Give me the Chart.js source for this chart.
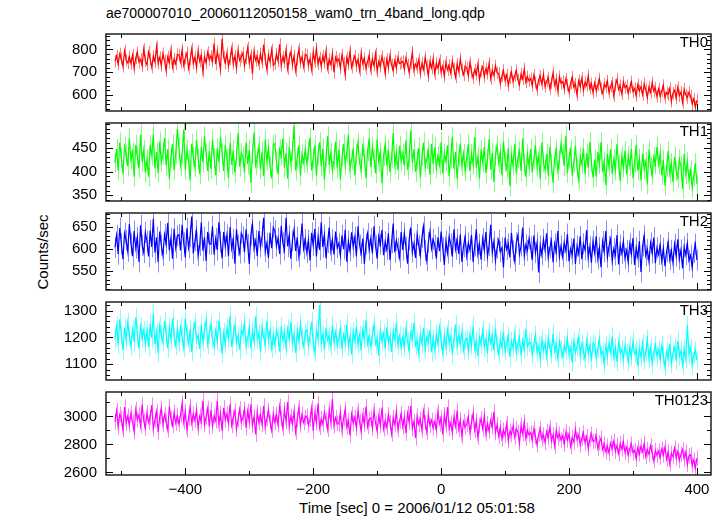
<!DOCTYPE html>
<html>
<head>
<meta charset="utf-8">
<script src="https://cdn.jsdelivr.net/npm/chart.js@4.4.1/dist/chart.umd.min.js"></script>
<style>
  body { margin: 0; background: #fff; }
  #wrap { position: relative; width: 724px; height: 516px; background: #fff; font-family: "Liberation Sans", Arial, sans-serif; color: #000; }
  .panel { position: absolute; left: 0; width: 724px; }
  #title { position: absolute; left: 106px; top: 5px; font-size: 14px; line-height: 16px; white-space: nowrap; }
  #ylab { position: absolute; left: 42px; top: 252px; font-size: 15px; white-space: nowrap; transform: translate(-50%, -50%) rotate(-90deg); }
  #xlab { position: absolute; left: 417px; top: 499px; font-size: 15px; line-height: 17px; white-space: nowrap; transform: translateX(-50%); }
</style>
</head>
<body>
<div id="wrap">
  <div id="title">ae700007010_20060112050158_wam0_trn_4band_long.qdp</div>
  <div id="ylab">Counts/sec</div>
  <div id="xlab">Time [sec] 0 = 2006/01/12 05:01:58</div>
</div>
<script>
// light curve bins: start time and bin width (sec)
var binStart = -510;
var binSize = 2.5;

var panelNames = ["TH0", "TH1", "TH2", "TH3", "TH0123"];
var panelColors = ["#ff0000", "#00ff00", "#0000ff", "#00ffff", "#ff00ff"];
var errColors = ["rgba(255,0,0,0.5)", "rgba(0,255,0,0.5)", "rgba(0,0,255,0.45)", "rgba(0,255,255,0.5)", "rgba(255,0,255,0.5)"];

// typical 1-sigma error of one bin, per band (counts/sec)
var rateErrors = [27, 21, 24, 35, 55];

var th0Rate = [
  748,772,735,781,760,726,794,752,741,768,739,775,718,763,787,744,757,729,801,750,
  733,789,758,722,771,746,812,740,765,729,782,751,707,768,743,796,724,760,737,779,
  776,744,799,731,762,785,718,757,803,739,766,721,792,748,775,703,769,741,788,755,
  771,748,826,735,792,755,712,847,766,741,783,727,759,804,738,771,719,795,752,768,
  784,729,763,808,741,775,694,790,752,769,736,781,745,822,758,713,776,747,799,731,
  738,781,750,823,729,767,745,798,716,761,789,734,772,707,756,801,742,768,725,779,
  774,731,759,712,788,747,805,736,763,726,771,743,792,718,757,734,781,699,766,748,
  758,719,776,741,689,764,735,792,722,751,770,728,756,709,783,737,761,716,747,774,
  712,759,730,781,704,748,726,769,741,695,757,722,773,733,708,751,719,766,738,743,
  748,715,762,733,699,741,788,709,736,721,754,697,739,712,765,728,684,747,719,758,
  694,739,718,752,701,726,683,744,710,731,697,748,715,679,736,705,758,712,689,727,
  719,685,742,703,676,711,690,735,668,705,724,681,716,695,739,672,709,687,728,698,
  695,651,683,708,664,689,642,676,701,659,684,707,668,645,693,671,715,657,680,662,
  672,641,688,655,624,667,683,649,690,637,661,676,628,654,697,643,669,618,681,652,
  659,628,671,644,613,652,679,635,648,601,663,638,674,621,657,642,684,629,650,611,
  652,618,644,671,629,608,648,635,662,611,639,654,597,643,668,624,641,605,657,632,
  641,607,633,658,614,628,596,645,619,637,602,649,623,589,636,612,654,617,631,594,
  627,594,618,642,588,611,603,629,572,608,621,586,634,597,613,568,625,601,589,612,
  596,561,583,547,578
];

var th1Rate = [
  418,447,402,461,429,395,452,436,411,470,424,441,389,456,433,407,478,420,445,398,
  425,389,456,433,478,407,441,397,463,420,436,471,412,447,384,429,458,403,437,490,
  451,412,437,488,404,446,423,381,458,431,409,466,427,395,452,419,474,438,401,443,
  406,467,428,392,449,419,473,438,401,455,427,386,461,414,444,397,432,481,410,439,
  432,398,461,416,445,376,437,482,413,428,453,405,441,390,467,422,448,411,385,456,
  459,421,394,447,433,470,408,439,385,452,417,443,497,402,428,455,391,436,419,446,
  417,443,471,402,428,455,391,436,462,411,448,383,430,474,414,439,401,425,463,408,
  446,383,430,458,414,439,477,405,424,449,392,437,461,418,404,452,429,386,443,470,
  409,452,427,396,468,420,441,375,433,457,412,446,399,428,481,415,437,403,454,421,
  438,412,465,403,430,486,418,447,399,425,450,387,432,461,409,426,444,393,458,416,
  451,407,433,414,462,396,438,421,455,390,428,473,406,441,384,431,459,412,437,401,
  429,458,401,437,415,473,408,431,385,446,419,452,397,426,468,404,439,378,433,455,
  418,440,392,463,421,405,449,369,434,413,457,396,428,442,401,470,417,389,436,411,
  447,398,426,455,410,432,384,461,419,403,437,391,452,415,376,429,446,402,424,459,
  436,412,475,397,428,446,391,420,454,407,383,431,416,449,395,438,408,462,419,387,
  425,389,441,416,462,398,421,371,437,410,447,395,426,403,458,414,380,432,409,444,
  394,433,412,448,386,419,456,402,427,381,438,405,421,373,446,410,392,431,415,452,
  415,438,392,424,370,409,443,396,418,378,431,401,387,426,412,364,437,395,420,383,
  402,366,391,418,374
];

var th2Rate = [
  604,631,589,648,612,577,636,620,595,657,613,584,641,602,627,571,654,609,592,638,
  618,583,642,605,669,592,627,571,640,609,586,633,612,659,597,624,578,646,603,630,
  633,597,655,614,581,647,603,628,674,590,619,642,585,608,661,596,627,573,639,612,
  611,652,587,624,598,661,616,579,639,606,632,584,650,601,622,567,645,609,591,636,
  628,593,645,610,566,632,657,601,619,584,641,605,628,671,594,613,580,637,602,649,
  642,607,625,589,653,614,598,671,606,631,578,619,644,596,627,583,610,658,601,622,
  592,620,574,637,609,646,583,627,598,661,605,632,579,615,649,596,621,588,640,603,
  613,585,631,600,644,571,618,596,638,605,627,583,652,609,590,624,566,612,635,598,
  624,590,652,607,578,629,611,643,586,617,599,636,575,614,658,593,620,602,581,639,
  598,636,604,567,621,649,593,612,580,633,608,586,627,651,597,574,615,640,601,622,
  609,578,627,595,640,603,564,618,591,629,612,583,645,600,622,589,633,571,606,628,
  585,614,598,632,571,607,645,589,611,576,624,597,639,583,608,655,592,617,574,603,
  620,594,603,558,626,599,612,581,637,596,573,614,631,588,607,649,585,610,597,624,
  604,575,631,592,614,547,608,587,622,598,636,581,603,619,570,612,594,641,583,607,
  583,615,596,634,572,601,588,624,566,607,590,629,577,612,598,643,581,605,569,618,
  592,629,578,603,559,617,594,641,581,606,622,573,601,587,632,565,609,590,618,579,
  597,571,612,589,625,564,603,582,618,548,607,630,585,599,572,614,591,626,568,603,
  588,609,573,602,561,594,615,576,597,569,611,584,622,577,598,556,605,587,613,574,
  586,558,592,611,575
];

var th3Rate = [
  1195,1243,1172,1268,1210,1151,1237,1189,1256,1203,1167,1229,1184,1275,1212,1158,1241,1196,1226,1178,
  1226,1164,1251,1198,1287,1175,1219,1140,1244,1207,1183,1262,1213,1159,1236,1191,1271,1202,1169,1231,
  1183,1239,1201,1162,1272,1214,1178,1230,1146,1221,1255,1190,1208,1157,1246,1185,1223,1264,1174,1212,
  1248,1193,1166,1225,1187,1262,1205,1139,1218,1176,1234,1198,1281,1164,1212,1245,1181,1207,1153,1229,
  1211,1254,1169,1197,1236,1158,1223,1184,1279,1192,1216,1147,1238,1201,1175,1262,1189,1226,1160,1208,
  1174,1227,1203,1148,1241,1189,1215,1163,1232,1196,1257,1178,1211,1142,1224,1186,1249,1201,1167,1219,
  1229,1167,1206,1258,1181,1143,1224,1197,1320,1178,1212,1154,1237,1189,1205,1166,1246,1183,1219,1171,
  1195,1232,1157,1211,1180,1249,1166,1203,1136,1221,1187,1240,1172,1209,1151,1228,1194,1264,1175,1203,
  1168,1209,1246,1175,1192,1133,1227,1186,1214,1159,1238,1181,1203,1146,1221,1192,1255,1170,1206,1163,
  1202,1161,1233,1184,1149,1219,1196,1255,1170,1188,1141,1212,1177,1236,1158,1201,1183,1229,1145,1197,
  1153,1214,1176,1238,1190,1142,1207,1165,1229,1181,1203,1137,1195,1248,1168,1210,1174,1221,1152,1189,
  1197,1148,1210,1169,1243,1156,1185,1131,1202,1174,1226,1162,1193,1140,1219,1178,1205,1151,1234,1170,
  1139,1192,1163,1221,1150,1178,1204,1127,1185,1160,1212,1145,1174,1198,1133,1189,1157,1230,1166,1181,
  1181,1134,1172,1209,1145,1167,1118,1190,1152,1176,1128,1198,1161,1139,1214,1147,1173,1122,1185,1156,
  1128,1170,1149,1198,1137,1162,1106,1184,1143,1165,1201,1132,1176,1150,1119,1187,1141,1168,1112,1179,
  1172,1121,1158,1194,1135,1147,1099,1168,1130,1179,1145,1203,1126,1161,1108,1184,1139,1156,1117,1170,
  1141,1109,1163,1127,1186,1138,1152,1094,1159,1126,1178,1115,1147,1193,1121,1160,1102,1144,1171,1130,
  1155,1117,1169,1132,1090,1148,1124,1176,1103,1141,1163,1112,1187,1129,1150,1096,1158,1121,1245,1138,
  1160,1097,1133,1152,1115
];

var th0123Rate = [
  2962,3041,2928,3015,2987,2903,3068,2951,3003,2939,3024,2957,2891,3049,2976,3012,2934,3085,2968,2917,
  3027,2958,2994,3082,2911,2976,3036,2889,2999,3058,2943,3015,2962,2905,3071,2984,2937,3029,2953,3004,
  2947,3012,3095,2961,3034,2906,2988,3071,2953,3019,2972,3046,2918,3003,2965,3112,2941,2996,3058,2929,
  3046,2932,3003,2969,3110,2944,3021,2897,3062,2975,3018,2951,3087,2936,2992,3041,2909,2978,3053,2960,
  2991,3054,2919,3038,2964,3087,2936,2998,2872,3031,2957,3012,2943,3076,2925,2984,3043,2961,2902,3019,
  2958,3013,2941,3072,2986,2915,3049,2964,3104,2930,3001,2948,3036,2889,2977,3062,2939,3015,2956,2993,
  3002,2938,2979,3061,2897,3024,2956,3093,2921,2984,2947,3030,2975,2908,3047,2962,3125,2933,2991,2950,
  2947,3029,2905,2988,3052,2926,2971,2864,3016,2953,2994,2917,3040,2962,2889,3008,2945,3071,2928,2980,
  2989,2917,3041,2952,2895,3006,2937,3064,2911,2970,2924,3013,2958,2876,2992,2943,3037,2906,2967,3019,
  2926,2994,2881,3022,2958,3077,2913,2965,2847,3003,2944,2981,2902,3036,2955,2889,3011,2937,2972,2918,
  2961,2904,3035,2947,2989,2872,3012,2938,3068,2915,2953,2887,2996,2931,3042,2908,2975,2857,2964,2926,
  2943,2996,2887,2958,3021,2902,2969,2851,2934,2986,2913,3007,2878,2949,2895,2972,2926,3034,2884,2941,
  2859,2921,2842,2903,2867,2948,2826,2895,2871,2932,2853,2914,2889,2807,2938,2876,2961,2845,2902,2868,
  2884,2830,2912,2857,2797,2876,2909,2839,2868,2815,2893,2851,2921,2826,2869,2788,2903,2846,2874,2832,
  2861,2803,2889,2832,2874,2786,2851,2819,2907,2835,2868,2797,2844,2883,2812,2856,2771,2838,2874,2822,
  2826,2859,2771,2813,2846,2764,2802,2748,2787,2739,2810,2772,2824,2751,2793,2735,2806,2768,2819,2744,
  2781,2724,2769,2802,2741,2758,2697,2776,2733,2789,2748,2806,2715,2763,2729,2791,2742,2684,2757,2722,
  2752,2709,2768,2725,2781,2694,2746,2661,2738,2712,2774,2703,2749,2686,2731,2762,2697,2744,2658,2719,
  2728,2652,2689,2631,2702
];

var panelRates = [th0Rate, th1Rate, th2Rate, th3Rate, th0123Rate];

var yTickValues = [[600, 700, 800], [350, 400, 450], [550, 600, 650], [1100, 1200, 1300], [2600, 2800, 3000]];
var yMinorStep = [20, 10, 10, 20, 100];
var yRanges = [[530, 868], [338, 502], [507, 682], [1041, 1332], [2582, 3175]];
var xTickLabels = [-400, -200, 0, 200, 400];
var xMinorStep = 100;
var xRange = [-524, 422];

// layout
var panelTops = [28, 117, 207, 296, 386, 475];
var pad = 12;
var plotLeft = 106;
var plotRight = 13;
var fontFamily = "'Liberation Sans', Arial, Helvetica, sans-serif";

function fmtTick(v) {
  return v < 0 ? "\u2212" + (-v) : String(v);
}

// vertical error bars under the light curve, drawn through the chart scales
var qdpErrors = {
  id: "qdpErrors",
  beforeDatasetsDraw: function(chart) {
    var i = chart.options.plugins.qdpFrame.panel;
    var ctx = chart.ctx;
    var a = chart.chartArea;
    var xs = chart.scales.x;
    var ys = chart.scales.y;
    var err = rateErrors[i];
    ctx.save();
    ctx.beginPath();
    ctx.rect(a.left, a.top, a.right - a.left, a.bottom - a.top);
    ctx.clip();
    ctx.strokeStyle = errColors[i];
    ctx.lineWidth = 1;
    ctx.beginPath();
    panelRates[i].forEach(function(r, k) {
      var px = Math.round(xs.getPixelForValue(binStart + k * binSize)) + 0.5;
      ctx.moveTo(px, ys.getPixelForValue(r + err));
      ctx.lineTo(px, ys.getPixelForValue(r - err));
    });
    ctx.stroke();
    ctx.restore();
  }
};

var qdpFrame = {
  id: "qdpFrame",
  afterDraw: function(chart) {
    var ctx = chart.ctx;
    var a = chart.chartArea;
    var xs = chart.scales.x;
    var ys = chart.scales.y;
    var i = chart.options.plugins.qdpFrame.panel;
    ctx.save();
    ctx.strokeStyle = "#000";
    ctx.lineWidth = 1;
    ctx.beginPath();
    // x ticks, inward on top and bottom
    for (var t = Math.ceil(xRange[0] / xMinorStep) * xMinorStep; t <= xRange[1]; t += xMinorStep) {
      var px = Math.round(xs.getPixelForValue(t)) + 0.5;
      var len = (t % 200 === 0) ? 7 : 4;
      ctx.moveTo(px, a.top); ctx.lineTo(px, a.top + len);
      ctx.moveTo(px, a.bottom); ctx.lineTo(px, a.bottom - len);
    }
    // y ticks, inward on left and right
    var step = yMinorStep[i];
    for (var v = Math.ceil(yRanges[i][0] / step) * step; v <= yRanges[i][1]; v += step) {
      var py = Math.round(ys.getPixelForValue(v)) + 0.5;
      var ylen = yTickValues[i].indexOf(v) >= 0 ? 7 : 4;
      ctx.moveTo(a.left, py); ctx.lineTo(a.left + ylen, py);
      ctx.moveTo(a.right, py); ctx.lineTo(a.right - ylen, py);
    }
    ctx.stroke();
    ctx.lineWidth = 1.4;
    ctx.strokeStyle = "#111";
    ctx.strokeRect(a.left, a.top, a.right - a.left, a.bottom - a.top);
    ctx.fillStyle = "#000";
    ctx.font = "15px " + fontFamily;
    ctx.textAlign = "right";
    ctx.textBaseline = "top";
    ctx.fillText(panelNames[i], a.right - 3, a.top + 1);
    ctx.restore();
  }
};

function makePanel(i) {
  var last = i === panelNames.length - 1;
  var top = panelTops[i] - pad;
  var height = last ? 516 - top : panelTops[i + 1] - panelTops[i] + 2 * pad;
  var div = document.createElement("div");
  div.className = "panel";
  div.style.top = top + "px";
  div.style.height = height + "px";
  var canvas = document.createElement("canvas");
  div.appendChild(canvas);
  document.getElementById("wrap").appendChild(div);

  var points = panelRates[i].map(function(r, k) {
    return { x: binStart + k * binSize, y: r };
  });

  new Chart(canvas, {
    type: "line",
    data: {
      datasets: [
        { data: points, borderColor: panelColors[i], borderWidth: 1.2, pointRadius: 0, tension: 0 }
      ]
    },
    options: {
      responsive: true,
      maintainAspectRatio: false,
      animation: false,
      events: [],
      layout: { padding: { left: 0, right: plotRight, top: pad, bottom: last ? 0 : pad } },
      plugins: { legend: { display: false }, tooltip: { enabled: false }, qdpFrame: { panel: i } },
      scales: {
        x: {
          type: "linear",
          min: xRange[0],
          max: xRange[1],
          display: last,
          grid: { display: false, drawTicks: false },
          border: { display: false },
          afterBuildTicks: function(s) { s.ticks = xTickLabels.map(function(v) { return { value: v }; }); },
          afterFit: function(s) { if (last) { s.height = 516 - panelTops[5]; } },
          ticks: {
            autoSkip: false, maxRotation: 0, padding: 6, color: "#000",
            font: { family: fontFamily, size: 15 },
            callback: function(v) { return fmtTick(v); }
          }
        },
        y: {
          min: yRanges[i][0],
          max: yRanges[i][1],
          grid: { display: false, drawTicks: false },
          border: { display: false },
          afterBuildTicks: function(s) { s.ticks = yTickValues[i].map(function(v) { return { value: v }; }); },
          afterFit: function(s) { s.width = plotLeft; },
          ticks: {
            autoSkip: false, padding: 9, color: "#000",
            font: { family: fontFamily, size: 15 },
            callback: function(v) { return String(v); }
          }
        }
      }
    },
    plugins: [qdpErrors, qdpFrame]
  });
}

for (var p = 0; p < panelNames.length; p++) {
  makePanel(p);
}
</script>
</body>
</html>
